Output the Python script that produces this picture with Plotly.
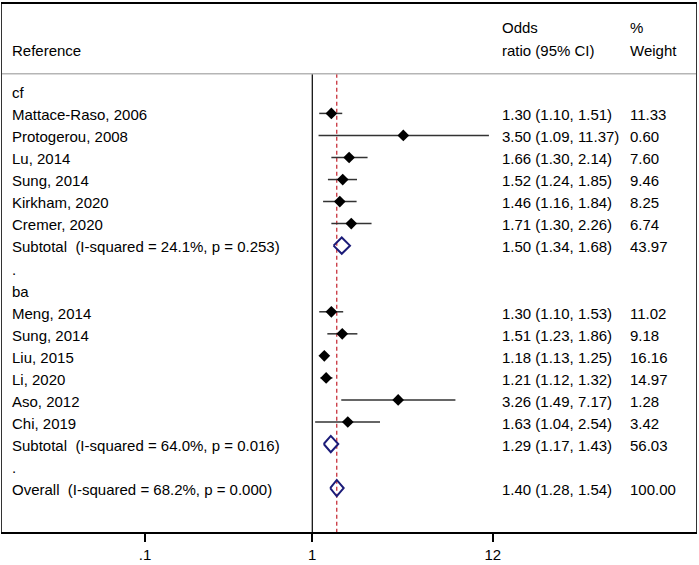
import plotly.graph_objects as go

# ---- data ----
labels = [
    "cf",
    "Mattace-Raso, 2006", "Protogerou, 2008", "Lu, 2014", "Sung, 2014",
    "Kirkham, 2020", "Cremer, 2020",
    "Subtotal\u00a0 (I-squared = 24.1%, p = 0.253)",
    ".",
    "ba",
    "Meng, 2014", "Sung, 2014", "Liu, 2015", "Li, 2020", "Aso, 2012", "Chi, 2019",
    "Subtotal\u00a0 (I-squared = 64.0%, p = 0.016)",
    ".",
    "Overall\u00a0 (I-squared = 68.2%, p = 0.000)",
]
row_type = ["head", "study", "study", "study", "study", "study", "study", "sub", "blank",
            "head", "study", "study", "study", "study", "study", "study", "sub", "blank", "sub"]
or_vals = [None, 1.30, 3.50, 1.66, 1.52, 1.46, 1.71, 1.50, None,
           None, 1.30, 1.51, 1.18, 1.21, 3.26, 1.63, 1.29, None, 1.40]
lo_vals = [None, 1.10, 1.09, 1.30, 1.24, 1.16, 1.30, 1.34, None,
           None, 1.10, 1.23, 1.13, 1.12, 1.49, 1.04, 1.17, None, 1.28]
hi_vals = [None, 1.51, 11.37, 2.14, 1.85, 1.84, 2.26, 1.68, None,
           None, 1.53, 1.86, 1.25, 1.32, 7.17, 2.54, 1.43, None, 1.54]
weights = [None, "11.33", "0.60", "7.60", "9.46", "8.25", "6.74", "43.97", None,
           None, "11.02", "9.18", "16.16", "14.97", "1.28", "3.42", "56.03", None, "100.00"]
tick_vals = [0.1, 1, 12]
tick_text = [".1", "1", "12"]
null_value = 1
header_left = "Reference"
header_or = ["Odds", "ratio (95% CI)"]
header_w = ["%", "Weight"]

# ---- layout constants ----
W, H = 699, 565
ML, MR, MT, MB = 2, 3, 3, 29
FONT = "Liberation Sans, Arial, sans-serif"
FS = 15
Y_TOP, Y_BOT = -3.964, 19.991
SEP_Y = -0.80
HEAD1_Y, HEAD2_Y = -2.975, -1.928
TXT_DY = 0.06
DIAM_H = 0.37
COL_LEFT, COL_OR, COL_W = 0.0115, 0.7175, 0.9027

fig = go.Figure()

# CI lines for studies
cx, cy = [], []
for i, t in enumerate(row_type):
    if t == "study":
        cx += [lo_vals[i], hi_vals[i], None]
        cy += [i, i, None]
fig.add_trace(go.Scatter(x=cx, y=cy, mode="lines",
                         line=dict(color="#333333", width=1.5), hoverinfo="skip"))

# point estimates
sx = [or_vals[i] for i, t in enumerate(row_type) if t == "study"]
sy = [i for i, t in enumerate(row_type) if t == "study"]
fig.add_trace(go.Scatter(x=sx, y=sy, mode="markers",
                         marker=dict(symbol="diamond", size=9, color="black"),
                         hoverinfo="skip"))

# pooled diamonds
for i, t in enumerate(row_type):
    if t == "sub":
        fig.add_trace(go.Scatter(
            x=[lo_vals[i], or_vals[i], hi_vals[i], or_vals[i], lo_vals[i]],
            y=[i, i - DIAM_H, i, i + DIAM_H, i],
            mode="lines", line=dict(color="#1b1b78", width=2),
            hoverinfo="skip"))

# reference lines
fig.add_shape(type="line", xref="x", yref="y", x0=null_value, x1=null_value,
              y0=SEP_Y, y1=Y_BOT, line=dict(color="black", width=1.2), layer="below")
fig.add_shape(type="line", xref="x", yref="y", x0=or_vals[-1], x1=or_vals[-1],
              y0=SEP_Y, y1=Y_BOT, line=dict(color="#c8323c", width=1.3, dash="4px,3px"),
              layer="below")
fig.add_shape(type="line", xref="paper", yref="y", x0=0, x1=1, y0=SEP_Y, y1=SEP_Y,
              line=dict(color="#b5b5b5", width=1.5))

ann = []
def txt(x, y, s):
    ann.append(dict(x=x, y=y + TXT_DY, xref="paper", yref="y", text=s, showarrow=False,
                    xanchor="left", yanchor="middle",
                    font=dict(family=FONT, size=FS, color="black")))

txt(COL_LEFT, HEAD2_Y, header_left)
txt(COL_OR, HEAD1_Y, header_or[0])
txt(COL_OR, HEAD2_Y, header_or[1])
txt(COL_W, HEAD1_Y, header_w[0])
txt(COL_W, HEAD2_Y, header_w[1])
for i, lab in enumerate(labels):
    txt(COL_LEFT, i, lab)
    if or_vals[i] is not None:
        txt(COL_OR, i, f"{or_vals[i]:.2f} ({lo_vals[i]:.2f}, {hi_vals[i]:.2f})")
        txt(COL_W, i, weights[i])

fig.update_layout(
    width=W, height=H, margin=dict(l=ML, r=MR, t=MT, b=MB),
    paper_bgcolor="white", plot_bgcolor="white", showlegend=False,
    font=dict(family=FONT, size=FS, color="black"),
    annotations=ann,
    xaxis=dict(type="log", range=[-1.8547, 2.2935], tickvals=tick_vals, ticktext=tick_text,
               ticks="outside", ticklen=8, tickwidth=1.5, tickcolor="black",
               showline=True, linecolor="black", linewidth=1.5, mirror=True,
               showgrid=False, zeroline=False, fixedrange=True),
    yaxis=dict(range=[Y_BOT, Y_TOP], showticklabels=False, ticks="",
               showline=True, linecolor="#333333", linewidth=1.2, mirror=True,
               showgrid=False, zeroline=False, fixedrange=True),
)

fig.write_html("out.html", config={"displayModeBar": False},
               post_script="document.body.style.margin='0px';document.body.style.padding='0px';")
